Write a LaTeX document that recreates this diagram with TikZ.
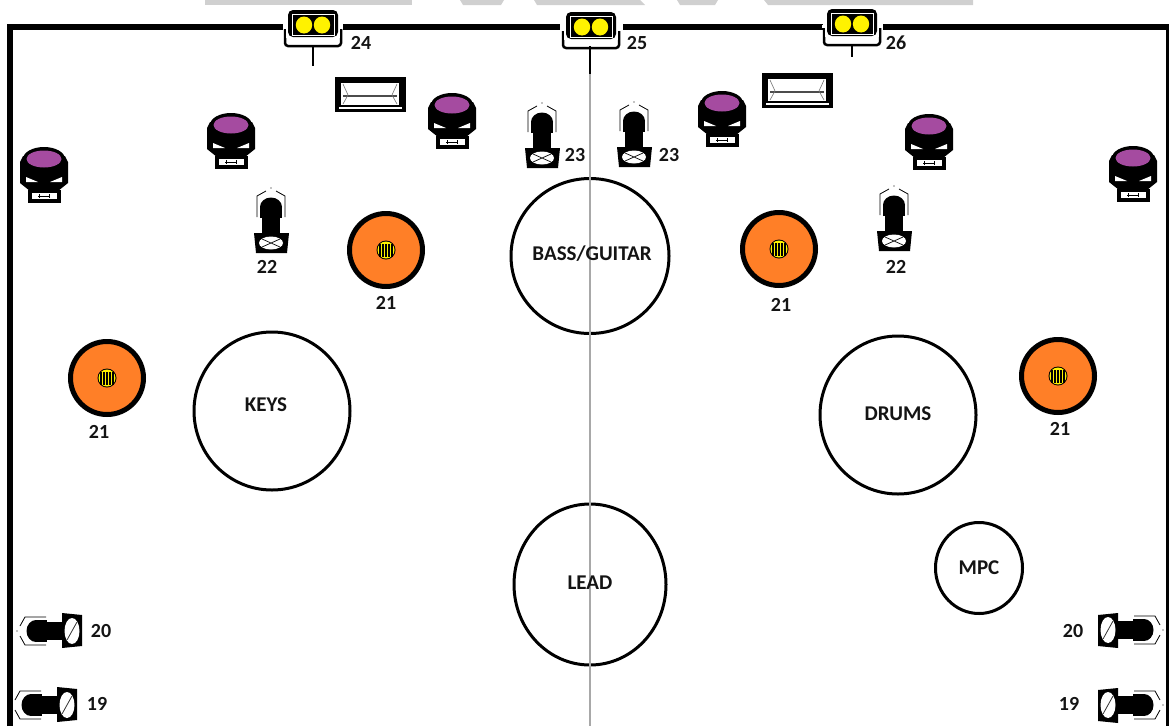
\documentclass[tikz,border=0pt]{standalone}
\usetikzlibrary{shapes.geometric}
\usepackage{fontspec}
\setmainfont{Carlito}
\definecolor{bandgrey}{HTML}{D0D0D0}
\definecolor{axisgrey}{HTML}{A8A8A8}
\definecolor{headpurple}{HTML}{A54BA0}
\definecolor{bodyorange}{HTML}{FF7F27}
\definecolor{lampyellow}{HTML}{FFF200}
\definecolor{inkdark}{HTML}{141414}
\newcommand{\spotbody}{%
    \draw[black,line width=.8pt] (-14,-26) -- (-14,-47) -- (-5,-52) (5,-52) -- (14,-47) -- (14,-26);
    \fill[black] (0,-55) circle[radius=.6];
    \fill[black] (0,-36) ellipse[x radius=11,y radius=9.5];
    \fill[black] (-11,-36) rectangle (11,-25);
    \fill[black] (-9,-26) rectangle (9,-8);
    \fill[black] (-17,-10) -- (18,-10) -- (16,10) -- (-15,10) -- cycle;
}
\tikzset{
  x=1pt,y=-1pt,
  border line/.style={line width=6pt,black},
  tag/.style={font=\fontsize{20}{20}\selectfont\bfseries,text=inkdark,inner sep=0pt},
  playertag/.style={font=\fontsize{21}{21}\selectfont\bfseries,text=inkdark,inner sep=0pt},
  player/.style={draw=black,line width=3pt,fill=white,shape=ellipse,inner sep=0pt},
  monitor/.pic={
    \draw[black,line width=2.5pt,rounded corners=3pt] (-28,3) -- (-28,21) -- (28,21) -- (28,3);
    \fill[white] (-30,1) rectangle (-26,4);
    \fill[white] (26,1) rectangle (30,4);
    \fill[white] (-27,-16) rectangle (27,13);
    \fill[black,rounded corners=5pt] (-25,-15) rectangle (25,12);
    \draw[white,line width=1pt] (-21,-11) rectangle (21,10);
    \fill[lampyellow] (-9,0) ellipse[x radius=8.2,y radius=8.5];
    \fill[lampyellow] (9,0) ellipse[x radius=8.2,y radius=8.5];
  },
  wash/.pic={
    \fill[black] (0,0) ellipse[x radius=21,y radius=12];
    \fill[black] (-24,3) -- (-21,-3) -- (21,-3) -- (24,3) -- (24,24) -- (14,32) -- (-14,32) -- (-24,24) -- cycle;
    \fill[headpurple] (0,0) ellipse[x radius=17.5,y radius=8.5];
    \fill[white] (-18,18) -- (-6,23) -- (-18,23) -- cycle;
    \fill[white] (18,18) -- (6,23) -- (18,23) -- cycle;
    \fill[black] (-16,31) rectangle (17,44);
    \fill[white] (-12,34) rectangle (13,40);
    \draw[black,line width=.7pt] (-6,37) -- (6,37) (-5,35) -- (-5,39) (5,35) -- (5,39);
  },
  spot/.pic={
    \spotbody
    \fill[white] (0,0) ellipse[x radius=12,y radius=6.5];
    \draw[black,line width=.7pt] (-9,-4) -- (9,4) (-9,4) -- (9,-4);
  },
  sidespot/.pic={
    \spotbody
    \fill[white] (0,0) ellipse[x radius=13,y radius=7.5];
    \draw[black!80,line width=.8pt] (-9,-5) -- (9,5);
  },
}
\newcommand{\flood}[2]{%
  \fill[black] (#1,#2) rectangle ++(71,35);
  \fill[white] (#1+6,#2+6) rectangle ++(58,22);
  \fill[white] (#1+4,#2+30) rectangle ++(63,2);
  \fill[black!70] (#1+8,#2+18) rectangle ++(54,2);
  \draw[black!55,line width=.6pt] (#1+8,#2+7) -- (#1+13,#2+18) -- (#1+8,#2+27) (#1+62,#2+7) -- (#1+57,#2+18) -- (#1+62,#2+27);
}
\newcommand{\orangeamp}[3]{%
  \node[circle,draw=black,line width=5pt,fill=bodyorange,minimum size=73pt,inner sep=0pt] (#3) at (#1,#2) {};
  \fill[black] (#1,#2) circle[radius=9.5];
  \fill[lampyellow] (#1,#2) circle[radius=8.5];
  \foreach \d in {-6,-3,0,3,6} \draw[black,line width=1.5pt] (#1+\d,#2-6) -- (#1+\d,#2+7);
}
\begin{document}
\begin{tikzpicture}
\useasboundingbox (0,0) rectangle (1169,726);
\clip (0,0) rectangle (1169,726);
% top band
\fill[bandgrey] (205,0) rectangle (412,5);
\fill[bandgrey] (460,0) -- (504,0) -- (501,5) -- (463,5) -- cycle;
\fill[bandgrey] (534,0) -- (640,0) -- (645,5) -- (537,5) -- cycle;
\fill[bandgrey] (677,0) -- (718,0) -- (715,5) -- (680,5) -- cycle;
\fill[bandgrey] (764,0) -- (973,0) -- (973,5) -- (768,5) -- cycle;
% border
\coordinate (bl) at (10,726);
\coordinate (tl) at (10,26.5);
\coordinate (g1a) at (283,26.5);
\coordinate (g1b) at (343,26.5);
\coordinate (g2a) at (560,26.5);
\coordinate (g2b) at (623,26.5);
\coordinate (g3a) at (823,26.5);
\coordinate (g3b) at (883,26.5);
\coordinate (tr) at (1169,26.5);
\coordinate (br) at (1169,726);
\draw[border line,line cap=butt,line join=miter] (bl) -- (tl) -- (g1a);
\draw[border line] (g1b) -- (g2a);
\draw[border line] (g2b) -- (g3a);
\draw[border line,line join=miter] (g3b) -- (tr) -- (br);
% performers
\node[player,minimum width=158pt,minimum height=155pt] (bass) at (590,256) {};
\node[player,minimum width=156pt,minimum height=158pt] (keys) at (272,411) {};
\node[player,minimum width=156pt,minimum height=158pt] (drums) at (898,415) {};
\node[player,minimum width=152pt,minimum height=161pt] (lead) at (590,584.5) {};
\node[player,minimum width=87pt,minimum height=91pt] (mpc) at (979,568) {};
% centre line
\coordinate (axtop) at (590,72);
\coordinate (axbot) at (590,726);
\draw[axisgrey,line width=1.2pt] (axtop) -- (axbot);
% labels of performers
\node[playertag] (bassl) at (592,254) {BASS/GUITAR};
\node[playertag] (keysl) at (266,405) {KEYS};
\node[playertag] (drumsl) at (898,414) {DRUMS};
\node[playertag] (leadl) at (590,583) {LEAD};
\node[playertag] (mpcl) at (979,568) {MPC};
% top fixtures
\draw[black,line width=2.5pt] (313,45) -- (313,66);
\draw[black,line width=2.5pt] (590,46) -- (590,74);
\draw[black,line width=2.5pt] (852,44) -- (852,57);
\pic at (313,25) {monitor};
\pic at (591,27) {monitor};
\pic at (852,24) {monitor};
\node[tag] (n24) at (361,43) {24};
\node[tag] (n25) at (637,43) {25};
\node[tag] (n26) at (896,43) {26};
% flood lights
\flood{335}{77}
\flood{762}{73}
% wash heads
\pic at (452,105) {wash};
\pic at (231,125) {wash};
\pic at (44,159) {wash};
\pic at (722,103) {wash};
\pic at (929,126) {wash};
\pic at (1133,158) {wash};
% spots
\pic at (542,158) {spot};
\pic at (634,157) {spot};
\pic at (271,243) {spot};
\pic at (894,241) {spot};
\pic[rotate=90] at (72,631) {sidespot};
\pic[rotate=90] at (67,705) {sidespot};
\pic[rotate=-90] at (1108,630) {sidespot};
\pic[rotate=-90] at (1108,705) {sidespot};
\node[tag] (n23a) at (575,155) {23};
\node[tag] (n23b) at (669,155) {23};
\node[tag] (n22a) at (267,267) {22};
\node[tag] (n22b) at (896,267) {22};
\node[tag] (n20a) at (101,631) {20};
\node[tag] (n20b) at (1073,631) {20};
\node[tag] (n19a) at (97,704) {19};
\node[tag] (n19b) at (1069,704) {19};
% orange amps
\orangeamp{386}{250}{ampa}
\orangeamp{107}{378}{ampb}
\orangeamp{779}{249}{ampc}
\orangeamp{1058}{376}{ampd}
\node[tag] (n21a) at (386,303) {21};
\node[tag] (n21b) at (99,432) {21};
\node[tag] (n21c) at (781,305) {21};
\node[tag] (n21d) at (1060,429) {21};
\end{tikzpicture}
\end{document}
